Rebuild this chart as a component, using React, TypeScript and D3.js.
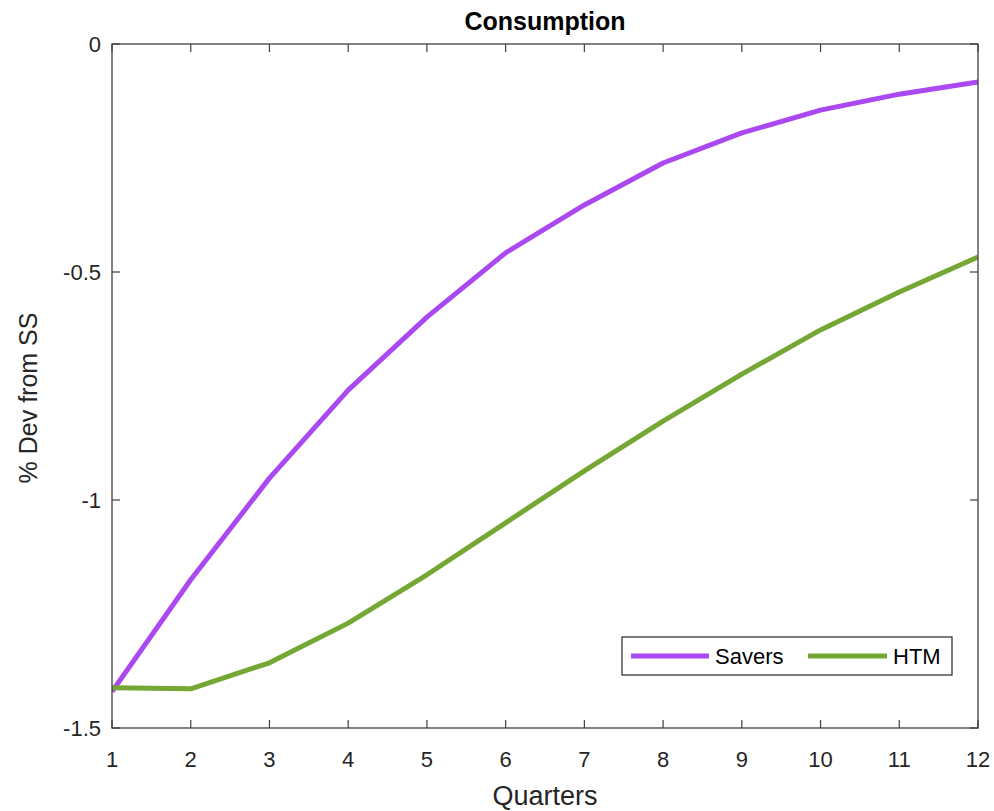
import React, { useEffect, useRef } from 'react';
import * as d3 from 'd3';

// quarters 1..12
const quarters = [1, 2, 3, 4, 5, 6, 7, 8, 9, 10, 11, 12];
const savers = [-1.42, -1.175, -0.952, -0.759, -0.599, -0.458, -0.353, -0.261, -0.195, -0.145, -0.11, -0.083];
const htm = [-1.412, -1.414, -1.357, -1.27, -1.164, -1.05, -0.936, -0.827, -0.724, -0.627, -0.544, -0.467];
const yTicks = [0, -0.5, -1, -1.5];

const seriesList = [
  { name: 'Savers', values: savers, color: '#aa48f2' },
  { name: 'HTM', values: htm, color: '#74a733' },
];

export default function App() {
  const ref = useRef<SVGSVGElement | null>(null);

  useEffect(() => {
    if (!ref.current) return;
    const svg = d3.select(ref.current);
    svg.selectAll('*').remove();

    const font = 'Liberation Sans, Arial, Helvetica, sans-serif';
    const left = 112, right = 978, top = 44, bottom = 728;

    const x = d3.scaleLinear().domain([1, 12]).range([left, right]);
    const y = d3.scaleLinear().domain([-1.5, 0]).range([bottom, top]);

    svg.append('rect').attr('width', 994).attr('height', 811).attr('fill', '#fff');

    // lines (clipped to plot box)
    svg.append('clipPath').attr('id', 'plotclip')
      .append('rect').attr('x', left).attr('y', top).attr('width', right - left).attr('height', bottom - top);

    const line = d3.line<number>()
      .x((_, i) => x(quarters[i]))
      .y(d => y(d));

    const g = svg.append('g').attr('clip-path', 'url(#plotclip)');
    seriesList.forEach(s => {
      g.append('path')
        .attr('d', line(s.values) as string)
        .attr('fill', 'none')
        .attr('stroke', s.color)
        .attr('stroke-width', 5)
        .attr('stroke-linejoin', 'round');
    });

    const axisColor = '#404040';
    const tickLen = 8;

    // box
    svg.append('rect')
      .attr('x', left).attr('y', top)
      .attr('width', right - left).attr('height', bottom - top)
      .attr('fill', 'none').attr('stroke', axisColor).attr('stroke-width', 1.3);

    // x ticks (inside, top and bottom)
    quarters.forEach(q => {
      const px = x(q);
      svg.append('line').attr('x1', px).attr('x2', px).attr('y1', bottom).attr('y2', bottom - tickLen)
        .attr('stroke', axisColor).attr('stroke-width', 1.2);
      svg.append('line').attr('x1', px).attr('x2', px).attr('y1', top).attr('y2', top + tickLen)
        .attr('stroke', axisColor).attr('stroke-width', 1.2);
      svg.append('text')
        .attr('x', px).attr('y', 767)
        .attr('text-anchor', 'middle')
        .attr('font-family', font).attr('font-size', 22)
        .attr('fill', '#262626')
        .text(String(q));
    });

    // y ticks (inside, left and right)
    yTicks.forEach(v => {
      const py = y(v);
      svg.append('line').attr('x1', left).attr('x2', left + tickLen).attr('y1', py).attr('y2', py)
        .attr('stroke', axisColor).attr('stroke-width', 1.2);
      svg.append('line').attr('x1', right).attr('x2', right - tickLen).attr('y1', py).attr('y2', py)
        .attr('stroke', axisColor).attr('stroke-width', 1.2);
      svg.append('text')
        .attr('x', left - 11).attr('y', py + 8)
        .attr('text-anchor', 'end')
        .attr('font-family', font).attr('font-size', 22)
        .attr('fill', '#262626')
        .text(String(v));
    });

    // title
    svg.append('text')
      .attr('x', 545).attr('y', 30)
      .attr('text-anchor', 'middle')
      .attr('font-family', font).attr('font-size', 25).attr('font-weight', 'bold')
      .attr('fill', '#000')
      .text('Consumption');

    // x label
    svg.append('text')
      .attr('x', 545).attr('y', 805)
      .attr('text-anchor', 'middle')
      .attr('font-family', font).attr('font-size', 27)
      .attr('fill', '#262626')
      .text('Quarters');

    // y label
    svg.append('text')
      .attr('transform', `translate(37,${(top + bottom) / 2 + 12}) rotate(-90)`)
      .attr('text-anchor', 'middle')
      .attr('font-family', font).attr('font-size', 25)
      .attr('fill', '#262626')
      .text('% Dev from SS');

    // legend
    const lg = svg.append('g');
    lg.append('rect')
      .attr('x', 622).attr('y', 637).attr('width', 330).attr('height', 38)
      .attr('fill', '#fff').attr('stroke', '#262626').attr('stroke-width', 1.2);
    const legendItems = [
      { s: seriesList[0], x0: 631, x1: 709, tx: 715 },
      { s: seriesList[1], x0: 808, x1: 887, tx: 893 },
    ];
    legendItems.forEach(it => {
      lg.append('line')
        .attr('x1', it.x0).attr('x2', it.x1).attr('y1', 656).attr('y2', 656)
        .attr('stroke', it.s.color).attr('stroke-width', 5);
      lg.append('text')
        .attr('x', it.tx).attr('y', 664)
        .attr('font-family', font).attr('font-size', 22)
        .attr('fill', '#000')
        .text(it.s.name);
    });
  }, []);

  return (
    <svg ref={ref} width={994} height={811}
      style={{ position: 'absolute', left: 0, top: 0, display: 'block' }} />
  );
}
